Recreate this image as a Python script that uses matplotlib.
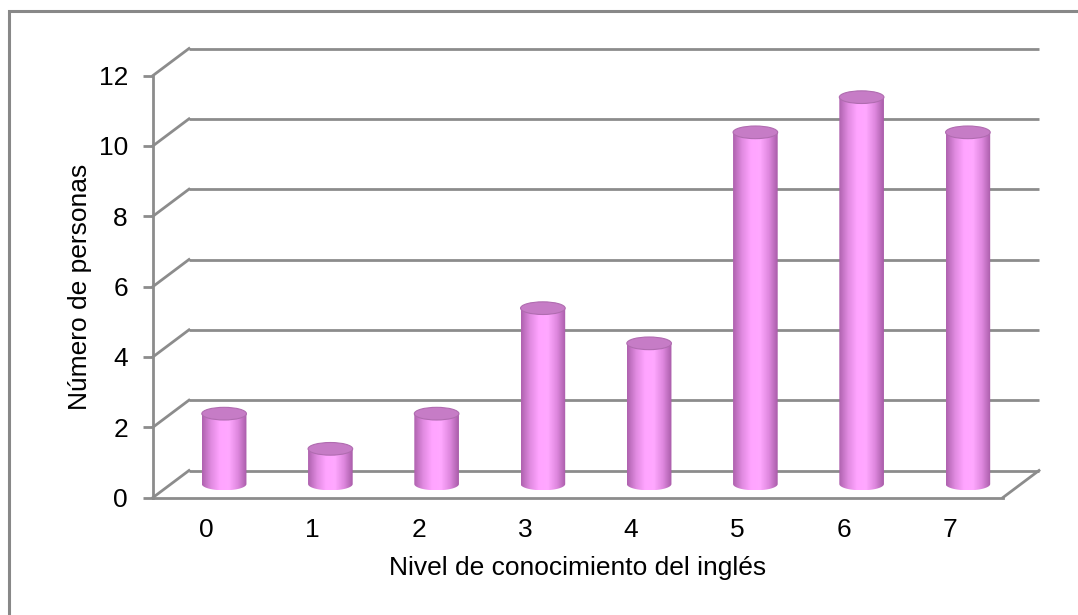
import numpy as np
import matplotlib.pyplot as plt
from matplotlib.patches import Polygon, Ellipse, Rectangle
from matplotlib.transforms import ScaledTranslation
from matplotlib.colors import LinearSegmentedColormap

plt.rcParams['font.family'] = ['Liberation Sans', 'DejaVu Sans']

niveles = [0, 1, 2, 3, 4, 5, 6, 7]
personas = [2, 1, 2, 5, 4, 10, 11, 10]
yticks = [0, 2, 4, 6, 8, 10, 12]

W, H, DPI = 1078, 615, 100
GRID = '#8c8c8c'
DEPTH = (36, 27)         # back wall offset in pixels (right, up)
BAR_W = 0.42             # cylinder width in category units
ELL_H = 0.36             # ellipse height in value units
FS = 19

fig = plt.figure(figsize=(W / DPI, H / DPI), dpi=DPI)
fig.patches.append(Rectangle((9 / W, -0.1), 1.2, 1.1 - 11 / H, transform=fig.transFigure,
                             fill=False, edgecolor='#888888', linewidth=2.2))

x0, x1, y0, y1 = 153, 1003, 497.5, 75.5
ax = fig.add_axes([x0 / W, (H - y0) / H, (x1 - x0) / W, (y0 - y1) / H])
ax.set_xlim(-0.5, 7.5)
ax.set_ylim(0, 12)
ax.patch.set_alpha(0)
for s in ['top', 'right', 'bottom']:
    ax.spines[s].set_visible(False)
ax.spines['left'].set_color(GRID)
ax.spines['left'].set_linewidth(2)
ax.set_yticks(yticks)
ax.set_xticks(niveles)
ax.tick_params(axis='y', colors=GRID, length=7, width=2, labelcolor='black',
               labelsize=FS, pad=11)
ax.tick_params(axis='x', length=0, labelsize=FS, pad=15)
ax.set_ylabel('Número de personas', fontsize=FS, labelpad=5)
ax.set_xlabel('Nivel de conocimiento del inglés', fontsize=FS, labelpad=10)


def shifted(frac):
    dx, dy = DEPTH[0] * frac / DPI, DEPTH[1] * frac / DPI
    return ax.transData + ScaledTranslation(dx, dy, fig.dpi_scale_trans)


back = shifted(1.0)
mid = shifted(0.5)
inv = ax.transData.inverted()

# back wall gridlines and the diagonals back to the value axis
for v in yticks:
    ax.plot([-0.5, 7.5], [v, v], color=GRID, lw=2, transform=back, clip_on=False,
            solid_capstyle='butt')
    q1 = inv.transform(back.transform((-0.5, v)))
    ax.plot([-0.5, q1[0]], [v, q1[1]], color=GRID, lw=2, clip_on=False)

# floor: front edge and right edge
br = inv.transform(back.transform((7.5, 0)))
ax.plot([-0.5, 7.5], [0, 0], color=GRID, lw=2, clip_on=False)
ax.plot([7.5, br[0]], [0, br[1]], color=GRID, lw=2, clip_on=False)

# cylinders
shade = LinearSegmentedColormap.from_list(
    'cyl', ['#ae62ae', '#e08ae0', '#ffa4ff', '#ffa8ff', '#df88df', '#a85ca8'])
grad = np.linspace(0, 1, 200)[None, :]
t = np.linspace(0, np.pi, 60)
for x, v in zip(niveles, personas):
    hw, eh = BAR_W / 2, ELL_H / 2
    body = np.vstack([[x - hw, v], [x - hw, 0],
                      np.column_stack([x - hw * np.cos(t), -eh * np.sin(t)]),
                      [x + hw, v]])
    poly = Polygon(body, closed=True, transform=mid, facecolor='none',
                   edgecolor='none', clip_on=False)
    ax.add_patch(poly)
    im = ax.imshow(grad, cmap=shade, aspect='auto', transform=mid,
                   extent=(x - hw, x + hw, -eh, v), interpolation='bilinear',
                   zorder=2)
    im.set_clip_path(poly)
    top = Ellipse((x, v), BAR_W, ELL_H, transform=mid,
                  facecolor='#c67cc6', edgecolor='#b06cb0', lw=0.8, zorder=3,
                  clip_on=False)
    ax.add_patch(top)

ax.set_xlim(-0.5, 7.5)
ax.set_ylim(0, 12)
fig.savefig('out.png', dpi=DPI)
